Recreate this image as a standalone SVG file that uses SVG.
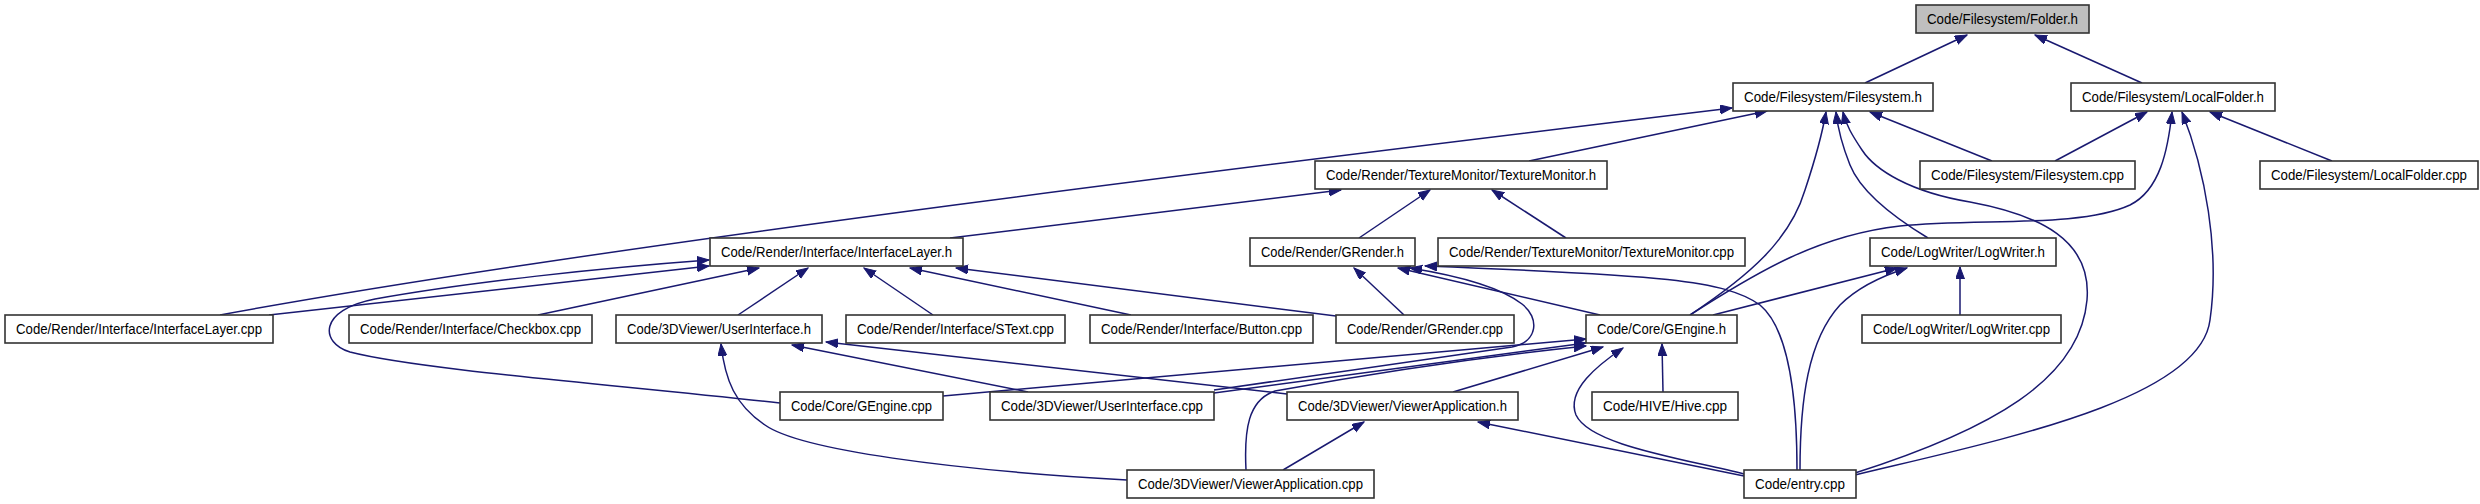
<svg xmlns="http://www.w3.org/2000/svg" width="2480" height="504" viewBox="0 0 2480 504">
<style>
.n rect{fill:#fff;stroke:#333;stroke-width:1.6}
.n.root rect{fill:#bfbfbf}
.n text{font-family:"Liberation Sans",Arial,sans-serif;font-size:14px;fill:#000;text-anchor:middle}
#edges path{fill:none;stroke:#191970;stroke-width:1.5;marker-end:url(#ah)}
</style>
<defs>
<marker id="ah" markerUnits="userSpaceOnUse" markerWidth="13" markerHeight="10" refX="12" refY="4.5" orient="auto">
<path d="M0,0 L12,4.5 L0,9 z" fill="#191970" stroke="#191970" stroke-width="1"/>
</marker>
</defs>
<rect width="2480" height="504" fill="#fff"/>
<g id="edges">
<path d="M1865,83 L1967,35"/>
<path d="M2142,83 L2035,35"/>
<path d="M1529,161 L1767,111"/>
<path d="M220,315 C600,245 1300,160 1732,108"/>
<path d="M1992,161 L1870,112"/>
<path d="M2055,161 L2147,112"/>
<path d="M2332,161 L2210,112"/>
<path d="M1690,315 C1750,275 1790,240 1805,190 C1815,160 1822,135 1826,112"/>
<path d="M1928,238 C1890,215 1860,190 1850,165 C1842,145 1838,130 1836,112"/>
<path d="M1855,473 C1990,430 2080,380 2087,300 C2092,240 2040,215 1970,202 C1910,192 1875,170 1862,150 C1852,135 1846,125 1843,112"/>
<path d="M1690,315 C1760,270 1820,235 1900,226 C1980,218 2080,228 2130,205 C2160,190 2168,150 2172,112"/>
<path d="M1855,475 C2000,440 2200,400 2210,320 C2220,250 2205,170 2182,112"/>
<path d="M950,238 L1341,190"/>
<path d="M1359,238 L1430,190"/>
<path d="M1566,238 L1492,190"/>
<path d="M1960,315 L1960,267"/>
<path d="M1713,315 L1897,268"/>
<path d="M1800,470 C1800,400 1808,340 1840,305 C1860,285 1885,275 1907,268"/>
<path d="M269,315 L709,266"/>
<path d="M538,315 L759,268"/>
<path d="M738,315 L808,268"/>
<path d="M933,315 L864,268"/>
<path d="M1131,315 L910,268"/>
<path d="M1336,316 L956,268"/>
<path d="M780,403 C620,385 420,370 350,352 C320,343 318,310 375,299 C470,282 600,268 709,260"/>
<path d="M1404,315 L1354,268"/>
<path d="M1600,315 L1398,268"/>
<path d="M1214,390 C1350,370 1470,354 1512,347 C1538,342 1540,318 1522,304 C1500,287 1460,276 1410,268"/>
<path d="M1797,470 C1797,400 1790,330 1760,305 C1725,280 1660,275 1425,266"/>
<path d="M943,396 L1586,339"/>
<path d="M1214,393 L1586,343"/>
<path d="M1246,470 C1244,430 1248,400 1275,391 C1380,372 1500,355 1586,346"/>
<path d="M1453,392 L1603,347"/>
<path d="M1663,392 L1662,344"/>
<path d="M1744,474 C1680,458 1590,445 1576,415 C1566,390 1598,365 1623,348"/>
<path d="M1744,476 L1478,422"/>
<path d="M1028,392 L792,345"/>
<path d="M1287,394 L826,342"/>
<path d="M1127,480 C950,470 800,450 765,425 C735,405 725,380 721,344"/>
<path d="M1283,470 L1364,422"/>
</g>
<g id="n1" class="n root"><rect x="1916" y="5" width="173" height="28"/><text x="2002.5" y="24" textLength="151" lengthAdjust="spacingAndGlyphs">Code/Filesystem/Folder.h</text></g>
<g id="n2" class="n"><rect x="1733" y="83" width="200" height="28"/><text x="1833" y="102" textLength="178" lengthAdjust="spacingAndGlyphs">Code/Filesystem/Filesystem.h</text></g>
<g id="n3" class="n"><rect x="2071" y="83" width="204" height="28"/><text x="2173" y="102" textLength="182" lengthAdjust="spacingAndGlyphs">Code/Filesystem/LocalFolder.h</text></g>
<g id="n4" class="n"><rect x="1315" y="161" width="292" height="28"/><text x="1461" y="180" textLength="270" lengthAdjust="spacingAndGlyphs">Code/Render/TextureMonitor/TextureMonitor.h</text></g>
<g id="n5" class="n"><rect x="1920" y="161" width="215" height="28"/><text x="2027.5" y="180" textLength="193" lengthAdjust="spacingAndGlyphs">Code/Filesystem/Filesystem.cpp</text></g>
<g id="n6" class="n"><rect x="2260" y="161" width="218" height="28"/><text x="2369" y="180" textLength="196" lengthAdjust="spacingAndGlyphs">Code/Filesystem/LocalFolder.cpp</text></g>
<g id="n7" class="n"><rect x="710" y="238" width="253" height="28"/><text x="836.5" y="257" textLength="231" lengthAdjust="spacingAndGlyphs">Code/Render/Interface/InterfaceLayer.h</text></g>
<g id="n8" class="n"><rect x="1250" y="238" width="165" height="28"/><text x="1332.5" y="257" textLength="143" lengthAdjust="spacingAndGlyphs">Code/Render/GRender.h</text></g>
<g id="n9" class="n"><rect x="1438" y="238" width="307" height="28"/><text x="1591.5" y="257" textLength="285" lengthAdjust="spacingAndGlyphs">Code/Render/TextureMonitor/TextureMonitor.cpp</text></g>
<g id="n10" class="n"><rect x="1870" y="238" width="186" height="28"/><text x="1963" y="257" textLength="164" lengthAdjust="spacingAndGlyphs">Code/LogWriter/LogWriter.h</text></g>
<g id="n11" class="n"><rect x="5" y="315" width="268" height="28"/><text x="139" y="334" textLength="246" lengthAdjust="spacingAndGlyphs">Code/Render/Interface/InterfaceLayer.cpp</text></g>
<g id="n12" class="n"><rect x="349" y="315" width="243" height="28"/><text x="470.5" y="334" textLength="221" lengthAdjust="spacingAndGlyphs">Code/Render/Interface/Checkbox.cpp</text></g>
<g id="n13" class="n"><rect x="616" y="315" width="206" height="28"/><text x="719" y="334" textLength="184" lengthAdjust="spacingAndGlyphs">Code/3DViewer/UserInterface.h</text></g>
<g id="n14" class="n"><rect x="846" y="315" width="219" height="28"/><text x="955.5" y="334" textLength="197" lengthAdjust="spacingAndGlyphs">Code/Render/Interface/SText.cpp</text></g>
<g id="n15" class="n"><rect x="1090" y="315" width="223" height="28"/><text x="1201.5" y="334" textLength="201" lengthAdjust="spacingAndGlyphs">Code/Render/Interface/Button.cpp</text></g>
<g id="n16" class="n"><rect x="1336" y="315" width="178" height="28"/><text x="1425" y="334" textLength="156" lengthAdjust="spacingAndGlyphs">Code/Render/GRender.cpp</text></g>
<g id="n17" class="n"><rect x="1586" y="315" width="151" height="28"/><text x="1661.5" y="334" textLength="129" lengthAdjust="spacingAndGlyphs">Code/Core/GEngine.h</text></g>
<g id="n18" class="n"><rect x="1862" y="315" width="199" height="28"/><text x="1961.5" y="334" textLength="177" lengthAdjust="spacingAndGlyphs">Code/LogWriter/LogWriter.cpp</text></g>
<g id="n19" class="n"><rect x="780" y="392" width="163" height="28"/><text x="861.5" y="411" textLength="141" lengthAdjust="spacingAndGlyphs">Code/Core/GEngine.cpp</text></g>
<g id="n20" class="n"><rect x="990" y="392" width="224" height="28"/><text x="1102" y="411" textLength="202" lengthAdjust="spacingAndGlyphs">Code/3DViewer/UserInterface.cpp</text></g>
<g id="n21" class="n"><rect x="1287" y="392" width="231" height="28"/><text x="1402.5" y="411" textLength="209" lengthAdjust="spacingAndGlyphs">Code/3DViewer/ViewerApplication.h</text></g>
<g id="n22" class="n"><rect x="1592" y="392" width="146" height="28"/><text x="1665" y="411" textLength="124" lengthAdjust="spacingAndGlyphs">Code/HIVE/Hive.cpp</text></g>
<g id="n23" class="n"><rect x="1127" y="470" width="247" height="28"/><text x="1250.5" y="489" textLength="225" lengthAdjust="spacingAndGlyphs">Code/3DViewer/ViewerApplication.cpp</text></g>
<g id="n24" class="n"><rect x="1744" y="470" width="112" height="28"/><text x="1800" y="489" textLength="90" lengthAdjust="spacingAndGlyphs">Code/entry.cpp</text></g>
</svg>
